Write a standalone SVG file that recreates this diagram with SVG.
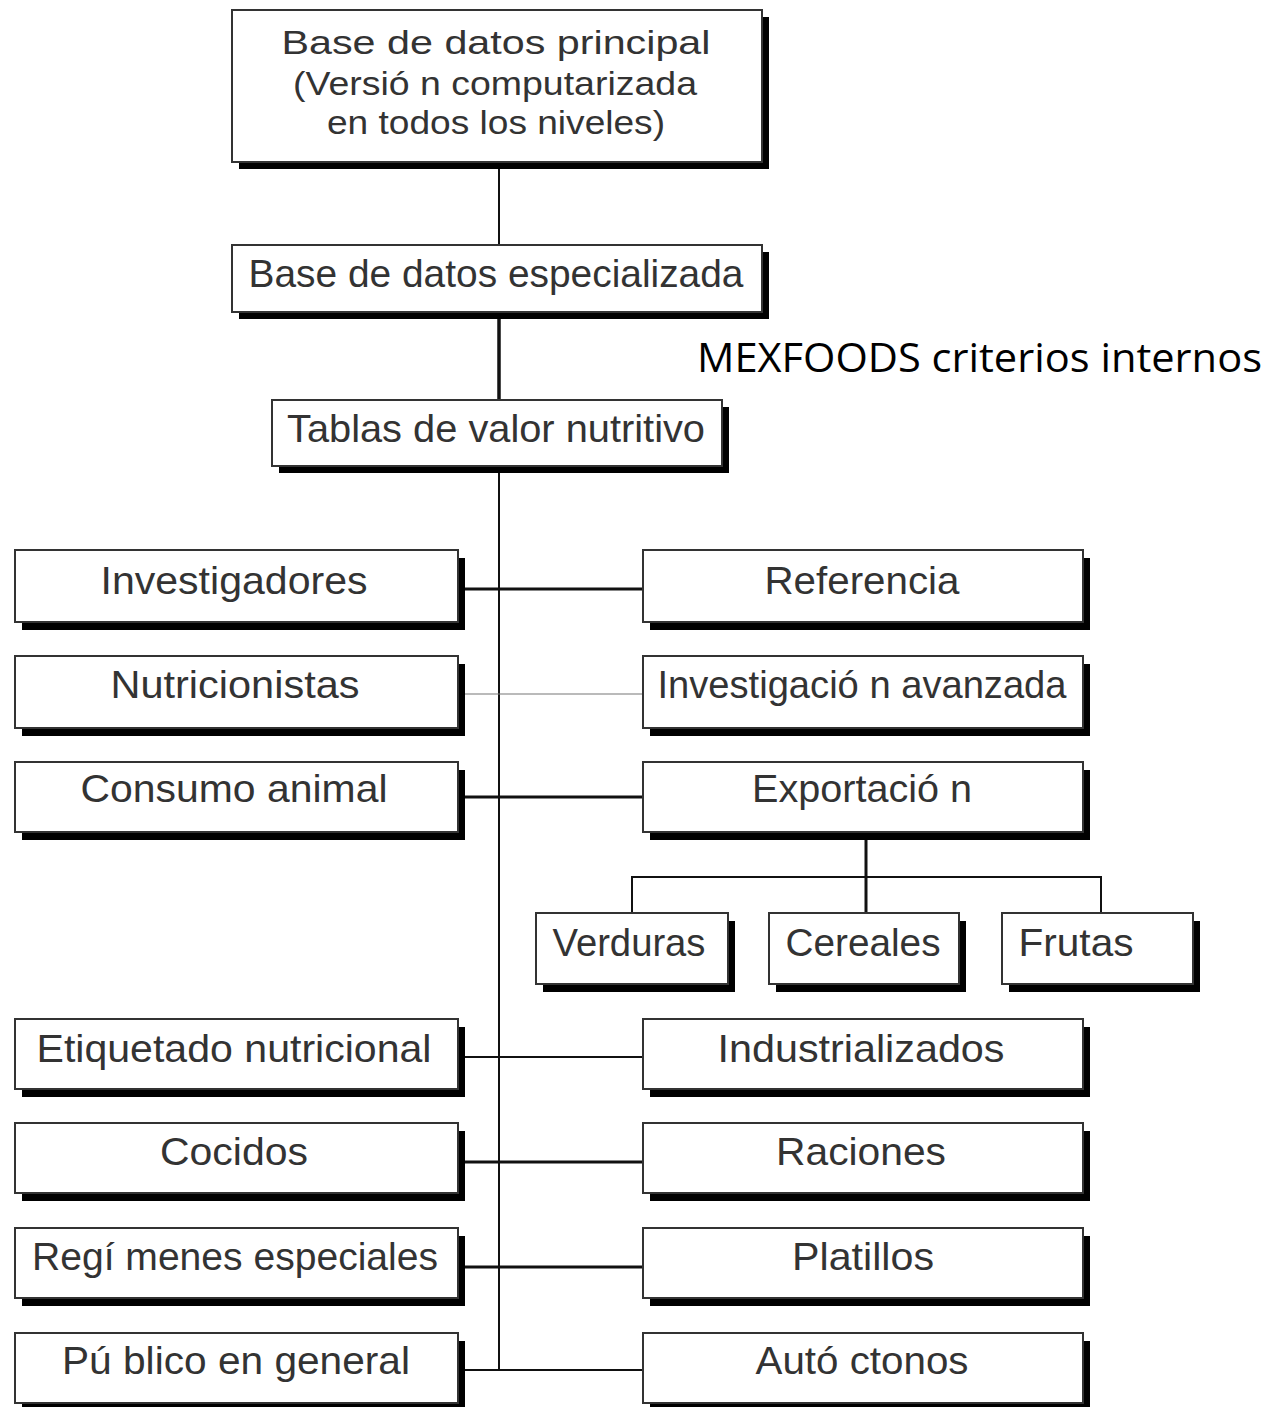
<svg xmlns="http://www.w3.org/2000/svg" width="1272" height="1407" viewBox="0 0 1272 1407">
<style>
.sh{fill:#000}
.bx{fill:#fff;stroke:#333;stroke-width:2}
.t{font-family:"Liberation Sans",Arial,sans-serif;font-size:39px;fill:#333;text-anchor:middle}
.tt{font-size:34px}
.c{stroke:#111;fill:none}
.mx{font-family:"Open Sans","Liberation Sans",sans-serif;font-size:40px;fill:#000}
</style>
<rect width="1272" height="1407" fill="#fff"/>
<g id="connectors">
<line class="c" x1="499" y1="162" x2="499" y2="245" stroke-width="2"/>
<line class="c" x1="499" y1="312" x2="499" y2="400" stroke-width="3.5"/>
<polyline class="c" points="499,466 499,1370 643,1370" stroke-width="2"/>
<line class="c" x1="463" y1="589" x2="643" y2="589" stroke-width="3"/>
<line x1="463" y1="694" x2="643" y2="694" stroke="#777" stroke-width="1.2"/>
<line class="c" x1="463" y1="797" x2="643" y2="797" stroke-width="3"/>
<line class="c" x1="463" y1="1057" x2="643" y2="1057" stroke-width="2"/>
<line class="c" x1="463" y1="1162" x2="643" y2="1162" stroke-width="3"/>
<line class="c" x1="463" y1="1267" x2="643" y2="1267" stroke-width="3"/>
<line class="c" x1="463" y1="1370" x2="499" y2="1370" stroke-width="2"/>
<line class="c" x1="866" y1="839" x2="866" y2="913" stroke-width="3"/>
<polyline class="c" points="632,913 632,877 1101,877 1101,913" stroke-width="2"/>
</g>
<g id="n-principal"><rect class="sh" x="239" y="17" width="530" height="152"/><rect class="bx" x="232" y="10" width="530" height="152"/>
<text class="t tt" x="496" y="54" textLength="429" lengthAdjust="spacingAndGlyphs">Base de datos principal</text>
<text class="t tt" x="495" y="95" textLength="404" lengthAdjust="spacingAndGlyphs">(Versió n computarizada</text>
<text class="t tt" x="496" y="134" textLength="338" lengthAdjust="spacingAndGlyphs">en todos los niveles)</text></g>
<g id="n-especializada"><rect class="sh" x="239" y="252" width="530" height="67"/><rect class="bx" x="232" y="245" width="530" height="67"/>
<text class="t" x="496" y="287" textLength="495" lengthAdjust="spacingAndGlyphs">Base de datos especializada</text></g>
<text id="mexfoods" class="mx" x="697" y="372" textLength="565" lengthAdjust="spacingAndGlyphs">MEXFOODS criterios internos</text>
<g id="n-tablas"><rect class="sh" x="279" y="407" width="450" height="66"/><rect class="bx" x="272" y="400" width="450" height="66"/>
<text class="t" x="496" y="442" textLength="418" lengthAdjust="spacingAndGlyphs">Tablas de valor nutritivo</text></g>

<g id="n-investigadores"><rect class="sh" x="22" y="558" width="443" height="72"/><rect class="bx" x="15" y="550" width="443" height="72"/>
<text class="t" x="234" y="594" textLength="267" lengthAdjust="spacingAndGlyphs">Investigadores</text></g>
<g id="n-referencia"><rect class="sh" x="650" y="558" width="440" height="72"/><rect class="bx" x="643" y="550" width="440" height="72"/>
<text class="t" x="862" y="594" textLength="195" lengthAdjust="spacingAndGlyphs">Referencia</text></g>

<g id="n-nutricionistas"><rect class="sh" x="22" y="664" width="443" height="72"/><rect class="bx" x="15" y="656" width="443" height="72"/>
<text class="t" x="235" y="698" textLength="249" lengthAdjust="spacingAndGlyphs">Nutricionistas</text></g>
<g id="n-investigacion"><rect class="sh" x="650" y="664" width="440" height="72"/><rect class="bx" x="643" y="656" width="440" height="72"/>
<text class="t" x="862" y="698" textLength="409" lengthAdjust="spacingAndGlyphs">Investigació n avanzada</text></g>

<g id="n-consumo"><rect class="sh" x="22" y="770" width="443" height="70"/><rect class="bx" x="15" y="762" width="443" height="70"/>
<text class="t" x="234" y="802" textLength="307" lengthAdjust="spacingAndGlyphs">Consumo animal</text></g>
<g id="n-exportacion"><rect class="sh" x="650" y="770" width="440" height="70"/><rect class="bx" x="643" y="762" width="440" height="70"/>
<text class="t" x="862" y="802" textLength="220" lengthAdjust="spacingAndGlyphs">Exportació n</text></g>

<g id="n-verduras"><rect class="sh" x="543" y="921" width="192" height="71"/><rect class="bx" x="536" y="913" width="192" height="71"/>
<text class="t" x="629" y="956" textLength="153" lengthAdjust="spacingAndGlyphs">Verduras</text></g>
<g id="n-cereales"><rect class="sh" x="776" y="921" width="190" height="71"/><rect class="bx" x="769" y="913" width="190" height="71"/>
<text class="t" x="863" y="956" textLength="155" lengthAdjust="spacingAndGlyphs">Cereales</text></g>
<g id="n-frutas"><rect class="sh" x="1009" y="921" width="191" height="71"/><rect class="bx" x="1002" y="913" width="191" height="71"/>
<text class="t" x="1076" y="956" textLength="115" lengthAdjust="spacingAndGlyphs">Frutas</text></g>

<g id="n-etiquetado"><rect class="sh" x="22" y="1027" width="443" height="70"/><rect class="bx" x="15" y="1019" width="443" height="70"/>
<text class="t" x="234" y="1062" textLength="395" lengthAdjust="spacingAndGlyphs">Etiquetado nutricional</text></g>
<g id="n-industrializados"><rect class="sh" x="650" y="1027" width="440" height="70"/><rect class="bx" x="643" y="1019" width="440" height="70"/>
<text class="t" x="861" y="1062" textLength="287" lengthAdjust="spacingAndGlyphs">Industrializados</text></g>

<g id="n-cocidos"><rect class="sh" x="22" y="1131" width="443" height="70"/><rect class="bx" x="15" y="1123" width="443" height="70"/>
<text class="t" x="234" y="1165" textLength="148" lengthAdjust="spacingAndGlyphs">Cocidos</text></g>
<g id="n-raciones"><rect class="sh" x="650" y="1131" width="440" height="70"/><rect class="bx" x="643" y="1123" width="440" height="70"/>
<text class="t" x="861" y="1165" textLength="170" lengthAdjust="spacingAndGlyphs">Raciones</text></g>

<g id="n-regimenes"><rect class="sh" x="22" y="1236" width="443" height="70"/><rect class="bx" x="15" y="1228" width="443" height="70"/>
<text class="t" x="235" y="1270" textLength="406" lengthAdjust="spacingAndGlyphs">Regí  menes especiales</text></g>
<g id="n-platillos"><rect class="sh" x="650" y="1236" width="440" height="70"/><rect class="bx" x="643" y="1228" width="440" height="70"/>
<text class="t" x="863" y="1270" textLength="142" lengthAdjust="spacingAndGlyphs">Platillos</text></g>

<g id="n-publico"><rect class="sh" x="22" y="1341" width="443" height="70"/><rect class="bx" x="15" y="1333" width="443" height="70"/>
<text class="t" x="236" y="1374" textLength="348" lengthAdjust="spacingAndGlyphs">Pú blico en general</text></g>
<g id="n-autoctonos"><rect class="sh" x="650" y="1341" width="440" height="70"/><rect class="bx" x="643" y="1333" width="440" height="70"/>
<text class="t" x="862" y="1374" textLength="213" lengthAdjust="spacingAndGlyphs">Autó ctonos</text></g>
</svg>
